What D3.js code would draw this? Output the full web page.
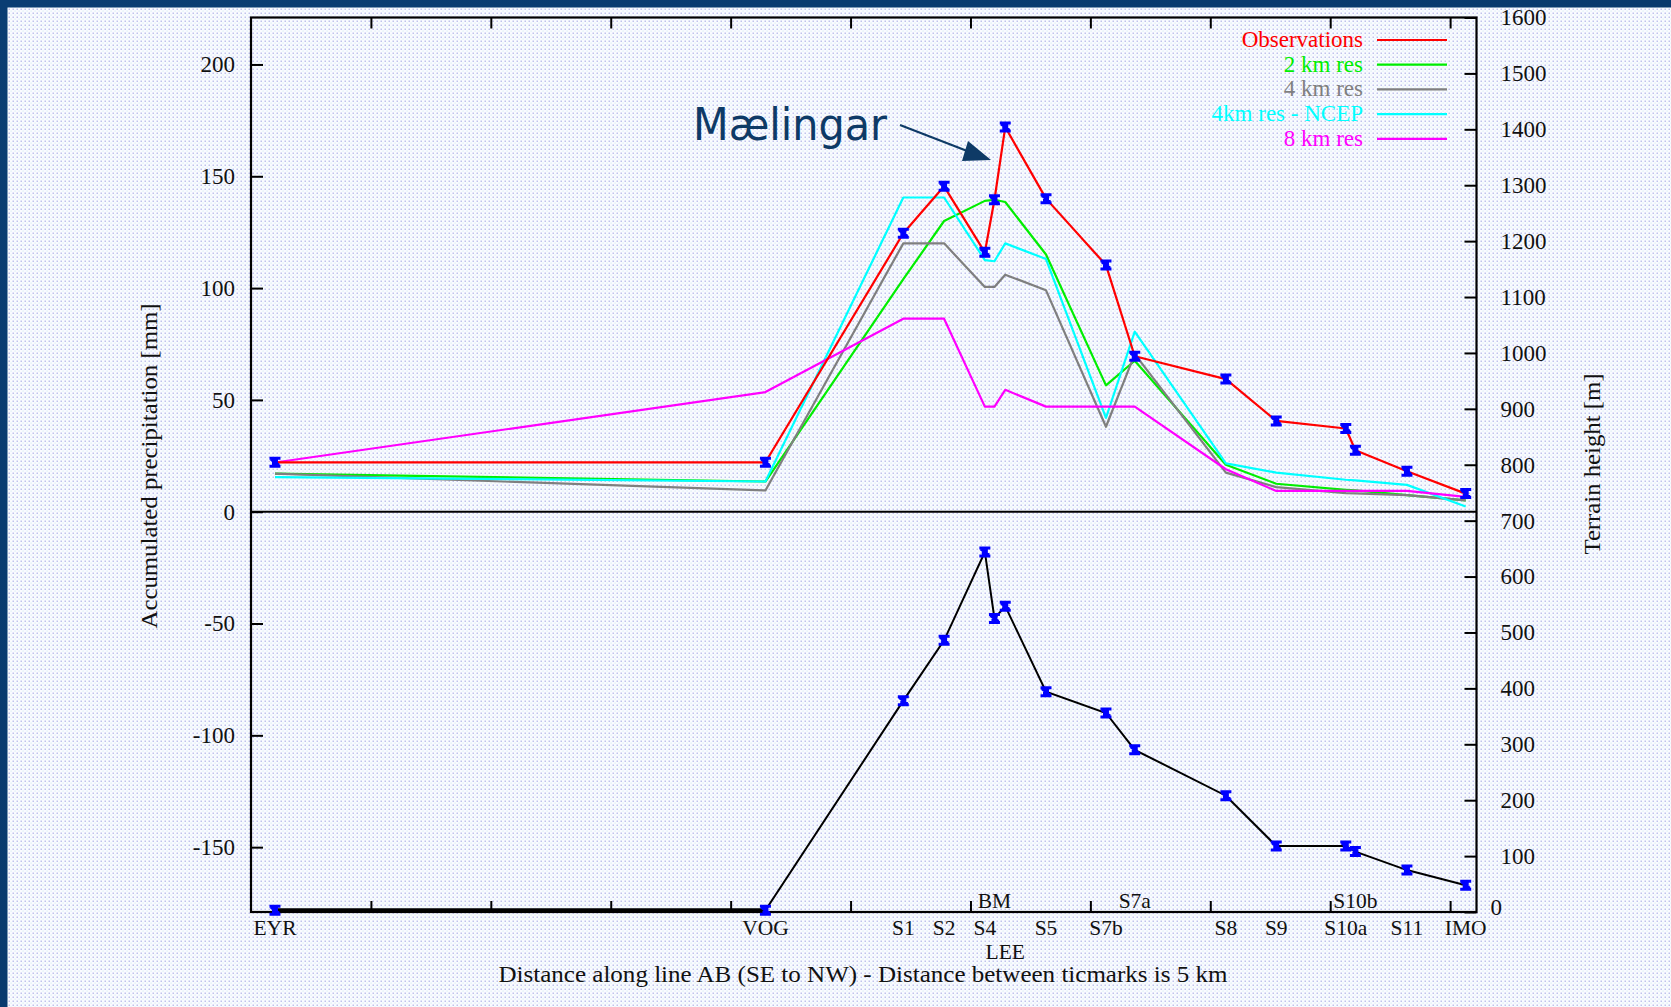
<!DOCTYPE html>
<html><head><meta charset="utf-8">
<script src="https://cdn.jsdelivr.net/npm/d3@7"></script>
<style>html,body{margin:0;padding:0;background:#07386b;overflow:hidden}</style>
</head><body>
<svg id="chart" width="1671" height="1007"></svg>
<script>
// ---------- DATA ----------
const stations   = ["EYR","VOG","S1","S2","S4","BM","LEE","S5","S7b","S7a","S8","S9","S10a","S10b","S11","IMO"];
const stationKm  = [1.0, 21.45, 27.2, 28.9, 30.6, 31.0, 31.45, 33.15, 35.65, 36.85, 40.65, 42.75, 45.65, 46.05, 48.2, 50.65];
const labelRow   = ["low","low","low","low","low","top","under","low","low","top","low","low","low","top","low","low"];
const observations = [22.1, 22.1, 124.5, 145.5, 116, 139.5, 172, 140, 110.3, 69.5, 59.3, 40.6, 37.2, 27.5, 18.1, 8.1];
const res2km       = [17, 13.5, 104, 130, 139, 139.5, 138.5, 115, 56.5, 67.5, 21, 12.5, 9.8, 9.5, 7.4, 5.1];
const res4km       = [17, 9.5, 120, 120, 100.5, 100.5, 106, 99, 38, 70.5, 17.5, 11, 8.3, 8.2, 7.4, 5.1];
const res4kmNCEP   = [15.5, 13.5, 140.5, 140.5, 112.5, 112, 120, 113, 42, 80.5, 21.6, 17.5, 14.3, 14, 12, 2.3];
const res8km       = [22, 53.5, 86.3, 86.3, 47, 47, 54.5, 47, 47, 47, 19, 9.3, 9.3, 9.3, 9.3, 6.6];
const terrain      = [3, 3, 378, 486, 644, 525, 547, 394, 356, 290, 208, 118, 118, 108, 75, 48];
const seriesNames  = ["Observations","2 km res","4 km res","4km res - NCEP","8 km res"];
const seriesColors = ["#ff0000","#00ee00","#7f7f7f","#00ffff","#ff00ff"];
const leftTicks  = [-150,-100,-50,0,50,100,150,200];
const rightTicks = [0,100,200,300,400,500,600,700,800,900,1000,1100,1200,1300,1400,1500,1600];
const xTicks     = [5,10,15,20,25,30,35,40,45,50];

// ---------- SETUP ----------
const W = 1671, H = 1007;
const L = 251, R = 1476.5, T = 17.5, B = 912;
const svg = d3.select("#chart");
const defs = svg.append("defs");
const pat = defs.append("pattern").attr("id","dots").attr("width",4).attr("height",4).attr("patternUnits","userSpaceOnUse");
pat.append("rect").attr("width",4).attr("height",4).attr("fill","#fafbff");
pat.append("rect").attr("x",0.5).attr("y",0.5).attr("width",1.5).attr("height",1.5).attr("fill","#bfc3ec");
pat.append("rect").attr("x",2.5).attr("y",2.5).attr("width",1.2).attr("height",1.2).attr("fill","#d6eef3");
const bg = defs.append("linearGradient").attr("id","navy").attr("x1",0).attr("y1",0).attr("x2",1).attr("y2",1);
bg.append("stop").attr("offset",0).attr("stop-color","#0a3d73");
bg.append("stop").attr("offset",1).attr("stop-color","#063568");

svg.append("rect").attr("width",W).attr("height",H).attr("fill","url(#navy)");
svg.append("rect").attr("x",7.5).attr("y",7.5).attr("width",W-7.5).attr("height",H-7.5).attr("fill","url(#dots)");

const x  = d3.scaleLinear().domain([0,51.1]).range([L,R]);
const y  = d3.scaleLinear().domain([-179,221]).range([B,T]);
const y2 = d3.scaleLinear().domain([0,1600]).range([B,T]);

const serif = "'Liberation Serif','Times New Roman',serif";
const g = svg.append("g");

// axes
function styleAxis(sel){
  sel.select(".domain").remove();
  sel.selectAll(".tick line").attr("stroke","#000").attr("stroke-width",2);
  sel.selectAll("text").attr("font-family",serif).attr("font-size",23).attr("fill","#111");
}
g.append("g").attr("transform",`translate(${L},0)`)
  .call(d3.axisLeft(y).tickValues(leftTicks).tickSizeInner(-12).tickSizeOuter(0).tickPadding(16).tickFormat(d=>String(d)))
  .call(styleAxis);
g.append("g").attr("transform",`translate(${R},0)`)
  .call(d3.axisRight(y2).tickValues(rightTicks).tickSizeInner(-12).tickSizeOuter(0).tickPadding(24).tickFormat(d=>String(d)))
  .call(styleAxis)
  .call(s=>s.selectAll(".tick").filter(d=>d===0).select("text").attr("x",14).attr("dy","0.1em"));
g.append("g").attr("transform",`translate(0,${B})`)
  .call(d3.axisBottom(x).tickValues(xTicks).tickSizeInner(-11).tickSizeOuter(0).tickFormat(""))
  .call(styleAxis);
g.append("g").attr("transform",`translate(0,${T})`)
  .call(d3.axisTop(x).tickValues(xTicks).tickSizeInner(-11).tickSizeOuter(0).tickFormat(""))
  .call(styleAxis);

// zero line
g.append("line").attr("x1",L).attr("x2",R).attr("y1",y(0)).attr("y2",y(0)).attr("stroke","#000").attr("stroke-width",2);

// frame
g.append("rect").attr("x",L).attr("y",T).attr("width",R-L).attr("height",B-T)
  .attr("fill","none").attr("stroke","#000").attr("stroke-width",2.2);

// series lines
const seriesValues = [observations,res2km,res4km,res4kmNCEP,res8km];
const line = d3.line().x((d,i)=>x(stationKm[i])).y(d=>y(d));
const order = [1,2,3,4,0];
order.forEach(k=>{
  g.append("path").datum(seriesValues[k]).attr("d",line)
   .attr("fill","none").attr("stroke",seriesColors[k]).attr("stroke-width",2.2).attr("stroke-linejoin","round");
});

// terrain line
const tline = d3.line().x((d,i)=>x(stationKm[i])).y(d=>y2(d));
g.append("path").datum(terrain).attr("d",tline).attr("fill","none").attr("stroke","#000").attr("stroke-width",2);
g.append("line").attr("x1",x(stationKm[0])).attr("x2",x(stationKm[1])).attr("y1",y2(terrain[0])).attr("y2",y2(terrain[1]))
  .attr("stroke","#000").attr("stroke-width",4);

// markers
const marker = "M-5.5,-4H5.5M-5.5,4H5.5M-1.5,-4V4M1.5,-4V4M-4,-3L4,3";
function drawMarkers(vals, sc){
  g.append("g").selectAll("path").data(vals).join("path")
   .attr("transform",(d,i)=>`translate(${x(stationKm[i])},${sc(d)})`)
   .attr("d",marker).attr("fill","none").attr("stroke","#0000ff").attr("stroke-width",3);
}
drawMarkers(observations, y);
drawMarkers(terrain, y2);

// station labels
const rowY = {low:935, under:959, top:908};
g.append("g").selectAll("text").data(stations).join("text")
  .attr("x",(d,i)=>x(stationKm[i])).attr("y",(d,i)=>rowY[labelRow[i]])
  .attr("text-anchor","middle").attr("font-family",serif).attr("font-size",21.5).attr("fill","#111")
  .text(d=>d);

// axis titles
g.append("text").attr("transform",`translate(157,466) rotate(-90)`).attr("text-anchor","middle")
  .attr("font-family",serif).attr("font-size",24).attr("fill","#111")
  .attr("textLength",325).attr("lengthAdjust","spacingAndGlyphs")
  .text("Accumulated precipitation [mm]");
g.append("text").attr("transform",`translate(1600,464) rotate(-90)`).attr("text-anchor","middle")
  .attr("font-family",serif).attr("font-size",24).attr("fill","#111")
  .attr("textLength",181).attr("lengthAdjust","spacingAndGlyphs")
  .text("Terrain height [m]");
g.append("text").attr("x",863).attr("y",982).attr("text-anchor","middle")
  .attr("font-family",serif).attr("font-size",24).attr("fill","#111")
  .attr("textLength",729).attr("lengthAdjust","spacingAndGlyphs")
  .text("Distance along line AB (SE to NW) - Distance between ticmarks is 5 km");

// legend
const leg = g.append("g");
seriesNames.forEach((n,i)=>{
  const ly = 40 + i*24.7;
  leg.append("text").attr("x",1363).attr("y",ly+7).attr("text-anchor","end")
    .attr("font-family",serif).attr("font-size",23).attr("fill",seriesColors[i]).text(n);
  leg.append("line").attr("x1",1377).attr("x2",1447).attr("y1",ly).attr("y2",ly)
    .attr("stroke",seriesColors[i]).attr("stroke-width",2.2);
});

// annotation
const navy = "#0e3a66";
g.append("text").attr("x",693).attr("y",140).attr("font-family","'DejaVu Sans',Verdana,sans-serif")
  .attr("font-size",44).attr("fill",navy).attr("textLength",194).attr("lengthAdjust","spacingAndGlyphs").text("Mælingar");
g.append("line").attr("x1",900).attr("y1",125).attr("x2",975).attr("y2",154)
  .attr("stroke",navy).attr("stroke-width",2.2);
g.append("path").attr("d","M991,160 L968,141 L962,161 Z").attr("fill",navy);
</script>
</body></html>
